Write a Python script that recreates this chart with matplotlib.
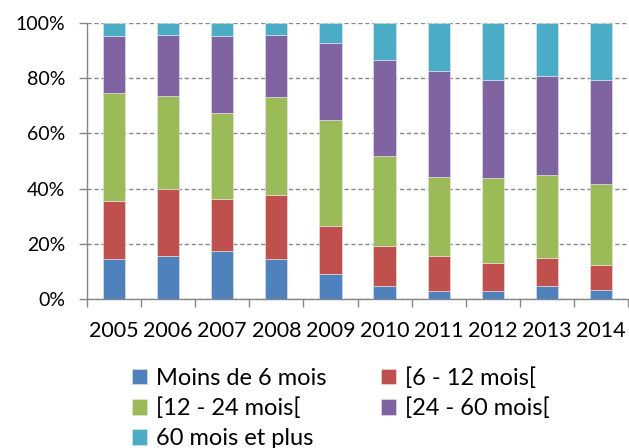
import numpy as np
import matplotlib
matplotlib.use("Agg")
import matplotlib.pyplot as plt
from matplotlib.ticker import PercentFormatter, FixedLocator

plt.rcParams['font.family'] = ['Lato', 'DejaVu Sans']

# --------- DATA (share of each duration class, %) ---------
years = ["2005", "2006", "2007", "2008", "2009", "2010", "2011", "2012", "2013", "2014"]
moins_6 = [14.5, 15.6, 17.5, 14.4, 8.9, 4.8, 2.9, 3.0, 4.8, 3.3]
m6_12 = [21.1, 24.1, 18.7, 23.3, 17.7, 14.5, 12.6, 10.2, 10.2, 8.9]
m12_24 = [38.9, 33.9, 31.1, 35.6, 38.3, 32.5, 28.7, 30.6, 30.0, 29.5]
m24_60 = [20.9, 22.2, 28.1, 22.5, 28.0, 34.8, 38.3, 35.4, 35.9, 37.5]
plus_60 = [4.6, 4.2, 4.6, 4.2, 7.1, 13.4, 17.5, 20.8, 19.1, 20.8]

labels = ["Moins de 6 mois", "[6 - 12 mois[", "[12 - 24 mois[", "[24 - 60 mois[", "60 mois et plus"]
colors = ["#4F81BD", "#C0504D", "#9BBB59", "#8064A2", "#4BACC6"]
# ----------------------------------------------------------

series = [moins_6, m6_12, m12_24, m24_60, plus_60]

fig = plt.figure(figsize=(6.29, 4.48), dpi=100)
ax = fig.add_axes([87 / 629, 1 - 299 / 448, (628 - 87) / 629, (299 - 23) / 448])

x = np.arange(len(years))
bottom = np.zeros(len(years))
handles = []
for vals, lab, col in zip(series, labels, colors):
    vals = np.array(vals)
    h = ax.bar(x, vals, bottom=bottom, width=0.41, color=col, label=lab,
               edgecolor="#e8e8e8", linewidth=0.4, zorder=3)
    handles.append(h)
    bottom += vals

ax.set_ylim(0, 100)
ax.set_xlim(-0.5, len(years) - 0.5)
ax.yaxis.set_major_locator(FixedLocator([0, 20, 40, 60, 80, 100]))
ax.yaxis.set_major_formatter(PercentFormatter(decimals=0))
ax.grid(axis="y", color="#868686", linestyle=(0, (3, 2)), linewidth=1.0, zorder=0)

ax.set_xticks(x)
ax.set_xticklabels(years)
ax.set_xticks(np.arange(-0.5, len(years)), minor=True)
ax.tick_params(axis="x", which="major", length=0, pad=16, labelsize=15.5)
ax.tick_params(axis="x", which="minor", length=5.5, width=1, color="#868686")
ax.tick_params(axis="y", length=5.5, width=1, color="#868686", labelsize=14, pad=10)

for s in ["top", "right"]:
    ax.spines[s].set_visible(False)
for s in ["left", "bottom"]:
    ax.spines[s].set_color("#868686")
    ax.spines[s].set_linewidth(1.0)

# row-wise legend order like the original
order = [0, 2, 4, 1, 3]
fig.legend([handles[i] for i in order], [labels[i] for i in order],
           ncol=2, loc="upper left", bbox_to_anchor=(132 / 629, 1 - 367 / 448),
           frameon=False, fontsize=17, handlelength=0.62, handleheight=0.62,
           handletextpad=0.4, columnspacing=2.3, labelspacing=0.38,
           borderaxespad=0, borderpad=0)

fig.savefig("out.png", dpi=100)
